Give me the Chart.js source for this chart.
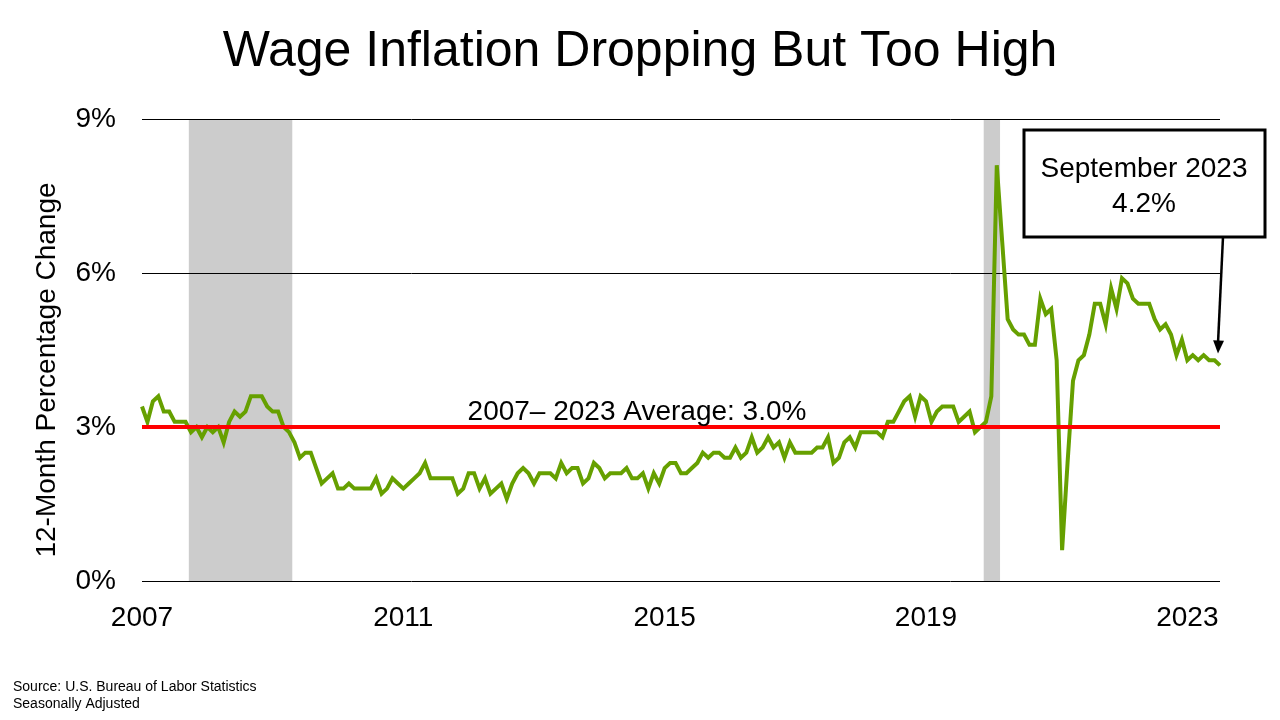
<!DOCTYPE html>
<html>
<head>
<meta charset="utf-8">
<script src="https://cdn.jsdelivr.net/npm/chart.js@4.4.1/dist/chart.umd.min.js"></script>
<style>
  html, body { margin: 0; padding: 0; background: #fff; }
  #wrap { width: 1280px; height: 720px; }
</style>
</head>
<body>
<div id="wrap"><canvas id="wageChart" width="1280" height="720"></canvas></div>
<script>
// 12-month % change in average hourly earnings, Mar 2007 .. Sep 2023
const startYear = 2007, startMonth = 3;
const wageGrowth = [
  3.4, 3.1, 3.5, 3.6, 3.3, 3.3, 3.1, 3.1, 3.1, 2.9, 3.0, 2.8,
  3.0, 2.9, 3.0, 2.7, 3.1, 3.3, 3.2, 3.3, 3.6, 3.6, 3.6, 3.4,
  3.3, 3.3, 3.0, 2.9, 2.7, 2.4, 2.5, 2.5, 2.2, 1.9, 2.0, 2.1,
  1.8, 1.8, 1.9, 1.8, 1.8, 1.8, 1.8, 2.0, 1.7, 1.8, 2.0, 1.9,
  1.8, 1.9, 2.0, 2.1, 2.3, 2.0, 2.0, 2.0, 2.0, 2.0, 1.7, 1.8,
  2.1, 2.1, 1.8, 2.0, 1.7, 1.8, 1.9, 1.6, 1.9, 2.1, 2.2, 2.1,
  1.9, 2.1, 2.1, 2.1, 2.0, 2.3, 2.1, 2.2, 2.2, 1.9, 2.0, 2.3,
  2.2, 2.0, 2.1, 2.1, 2.1, 2.2, 2.0, 2.0, 2.1, 1.8, 2.1, 1.9,
  2.2, 2.3, 2.3, 2.1, 2.1, 2.2, 2.3, 2.5, 2.4, 2.5, 2.5, 2.4,
  2.4, 2.6, 2.4, 2.5, 2.8, 2.5, 2.6, 2.8, 2.6, 2.7, 2.4, 2.7,
  2.5, 2.5, 2.5, 2.5, 2.6, 2.6, 2.8, 2.3, 2.4, 2.7, 2.8, 2.6,
  2.9, 2.9, 2.9, 2.9, 2.8, 3.1, 3.1, 3.3, 3.5, 3.6, 3.2, 3.6,
  3.5, 3.1, 3.3, 3.4, 3.4, 3.4, 3.1, 3.2, 3.3, 2.9, 3.0, 3.1,
  3.6, 8.1, 6.6, 5.1, 4.9, 4.8, 4.8, 4.6, 4.6, 5.5, 5.2, 5.3,
  4.3, 0.6, 2.3, 3.9, 4.3, 4.4, 4.8, 5.4, 5.4, 5.0, 5.7, 5.3,
  5.9, 5.8, 5.5, 5.4, 5.4, 5.4, 5.1, 4.9, 5.0, 4.8, 4.4, 4.7,
  4.3, 4.4, 4.3, 4.4, 4.3, 4.3, 4.2
];
const averageRate = 3.0;
const yearTicks = ['2007', '2011', '2015', '2019', '2023'];
const recessions = [['2007-12', '2009-06'], ['2020-02', '2020-04']];

const months = [];
for (let i = 0; i < wageGrowth.length; i++) {
  const m = startMonth - 1 + i;
  const y = startYear + Math.floor(m / 12);
  months.push(y + '-' + String(m % 12 + 1).padStart(2, '0'));
}

const FONT = "'Liberation Sans', Arial, sans-serif";

const overlay = {
  id: 'overlay',
  beforeDraw(chart) {
    const { ctx, chartArea, scales } = chart;
    ctx.save();
    ctx.fillStyle = '#cccccc';
    recessions.forEach(([a, b]) => {
      const x0 = scales.x.getPixelForValue(months.indexOf(a) - 0.4);
      const x1 = scales.x.getPixelForValue(months.indexOf(b) + 0.6);
      ctx.fillRect(x0, chartArea.top + 1, x1 - x0, chartArea.bottom - chartArea.top - 1);
    });
    ctx.restore();
  },
  afterDraw(chart) {
    const { ctx, scales } = chart;
    ctx.save();
    ctx.fillStyle = '#000';
    ctx.textAlign = 'center';
    ctx.textBaseline = 'alphabetic';

    ctx.font = '50px ' + FONT;
    ctx.fillText('Wage Inflation Dropping But Too High', 640, 66);

    ctx.font = '28px ' + FONT;
    ctx.save();
    ctx.translate(55, 370);
    ctx.rotate(-Math.PI / 2);
    ctx.fillText('12-Month Percentage Change', 0, 0);
    ctx.restore();

    ctx.fillText('2007\u2013 2023 Average: 3.0%', 637, scales.y.getPixelForValue(averageRate) - 7);

    // callout box
    ctx.lineWidth = 3;
    ctx.strokeStyle = '#000';
    ctx.fillStyle = '#fff';
    ctx.fillRect(1024, 130, 241, 107);
    ctx.strokeRect(1024, 130, 241, 107);
    ctx.fillStyle = '#000';
    ctx.fillText('September 2023', 1144, 177);
    ctx.fillText('4.2%', 1144, 212);

    // arrow to last point
    const last = wageGrowth.length - 1;
    const tx = scales.x.getPixelForValue(last) - 2;
    const ty = scales.y.getPixelForValue(wageGrowth[last]) - 12;
    const sx = 1223, sy = 237;
    ctx.lineWidth = 2.5;
    ctx.beginPath();
    ctx.moveTo(sx, sy);
    ctx.lineTo(tx, ty - 10);
    ctx.stroke();
    const ang = Math.atan2(ty - sy, tx - sx);
    ctx.beginPath();
    ctx.moveTo(tx, ty);
    ctx.lineTo(tx - 14 * Math.cos(ang - 0.4), ty - 14 * Math.sin(ang - 0.4));
    ctx.lineTo(tx - 14 * Math.cos(ang + 0.4), ty - 14 * Math.sin(ang + 0.4));
    ctx.closePath();
    ctx.fill();

    ctx.textAlign = 'left';
    ctx.font = '14px ' + FONT;
    ctx.fillText('Source: U.S. Bureau of Labor Statistics', 13, 691);
    ctx.fillText('Seasonally Adjusted', 13, 708);
    ctx.restore();
  }
};

new Chart(document.getElementById('wageChart'), {
  type: 'line',
  data: {
    labels: months,
    datasets: [
      {
        label: 'Average',
        data: months.map(() => averageRate),
        borderColor: '#ff0000',
        borderWidth: 4,
        pointRadius: 0,
        order: 0
      },
      {
        label: 'Wage growth',
        data: wageGrowth,
        borderColor: '#66a000',
        borderWidth: 4,
        pointRadius: 0,
        tension: 0,
        order: 1
      }
    ]
  },
  options: {
    responsive: false,
    animation: false,
    layout: { padding: { top: 119, right: 60, left: 0, bottom: 0 } },
    plugins: {
      legend: { display: false },
      tooltip: { enabled: false }
    },
    scales: {
      x: {
        offset: false,
        grid: { display: false },
        border: { display: false },
        afterFit: s => { s.height = 139; },
        ticks: {
          autoSkip: false,
          maxRotation: 0,
          padding: 12,
          color: '#000',
          font: { size: 28, family: FONT },
          callback: (v, i) => {
            const y = months[i].slice(0, 4);
            return months[i].endsWith('-03') && yearTicks.includes(y) ? y : '';
          }
        }
      },
      y: {
        min: 0,
        max: 9,
        afterFit: s => { s.width = 142; },
        border: { display: false },
        grid: { color: '#000', lineWidth: 1, drawTicks: false },
        ticks: {
          stepSize: 3,
          padding: 26,
          color: '#000',
          font: { size: 28, family: FONT },
          callback: v => v + '%'
        }
      }
    }
  },
  plugins: [overlay]
});
</script>
</body>
</html>
